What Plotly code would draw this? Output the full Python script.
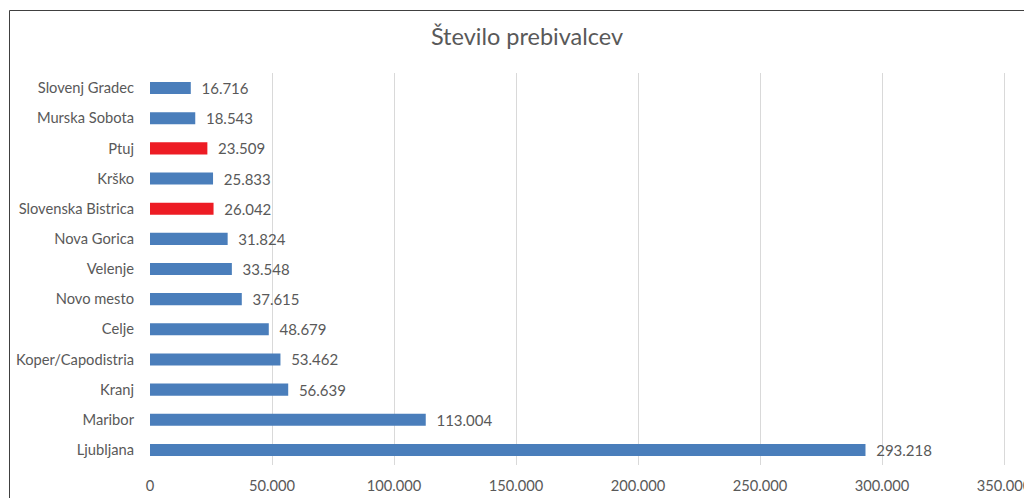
import plotly.graph_objects as go

cities = ["Ljubljana", "Maribor", "Kranj", "Koper/Capodistria", "Celje", "Novo mesto",
          "Velenje", "Nova Gorica", "Slovenska Bistrica", "Krško", "Ptuj",
          "Murska Sobota", "Slovenj Gradec"]
population = [293218, 113004, 56639, 53462, 48679, 37615, 33548, 31824, 26042,
              25833, 23509, 18543, 16716]
highlighted = ["Ptuj", "Slovenska Bistrica"]
x_ticks = [0, 50000, 100000, 150000, 200000, 250000, 300000, 350000]

BLUE = "#4a7ebb"
RED = "#ed1c24"
GRAY = "#595959"
FONT = "Lato, 'Open Sans', sans-serif"

# page body has an 8px default margin; figure geometry compensates for it
W, H = 1024, 490
L, R, T, B = 142, 26, 65, 33
PW, PH = W - L - R, H - T - B

colors = [RED if c in highlighted else BLUE for c in cities]

fig = go.Figure(go.Bar(
    x=population, y=cities, orientation="h",
    marker=dict(color=colors, line=dict(width=0)),
    texttemplate="\u00a0\u00a0%{x:,}", textposition="outside",
    constraintext="none",
    textfont=dict(color=GRAY, size=15, family=FONT),
    cliponaxis=False,
))

fig.update_layout(
    width=W, height=H,
    margin=dict(l=L, r=R, t=T, b=B, autoexpand=False),
    paper_bgcolor="white", plot_bgcolor="white",
    separators=",.",
    bargap=0.6,
    showlegend=False,
    font=dict(family=FONT, color=GRAY, size=14),
    title=dict(text="Število prebivalcev", x=519 / W, xref="container", xanchor="center",
               y=1 - 29 / H, yanchor="middle",
               font=dict(size=23.5, color=GRAY, family=FONT)),
    xaxis=dict(range=[0, 350800], tickvals=x_ticks, tickformat=",",
               showgrid=True, gridcolor="#d9d9d9", gridwidth=1, automargin=False,
               zeroline=False, showline=False, ticks="", ticklabelstandoff=10,
               tickfont=dict(size=14.7, color=GRAY)),
    yaxis=dict(range=[-0.5, 12.5], showgrid=False, zeroline=False, showline=False,
               automargin=False,
               ticks="", ticklabelstandoff=15, tickfont=dict(size=14.7, color=GRAY)),
    shapes=[dict(type="rect", xref="paper", yref="paper",
                 x0=(1.5 - L) / PW, x1=1.2, y0=-0.3, y1=1 + (T - 2.5) / PH,
                 line=dict(color="#404040", width=1), fillcolor="rgba(0,0,0,0)",
                 layer="below")],
)

fig.write_html("out.html")
